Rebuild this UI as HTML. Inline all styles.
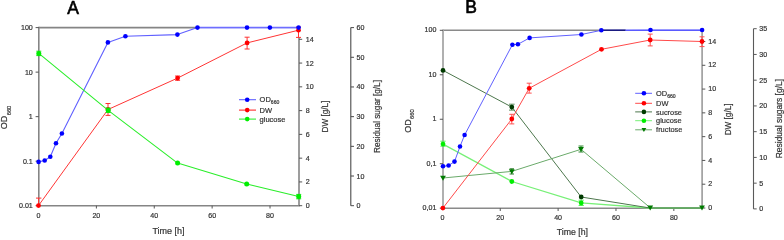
<!DOCTYPE html>
<html><head><meta charset="utf-8"><style>
html,body{margin:0;padding:0;background:#fff;width:784px;height:238px;overflow:hidden}
svg{display:block;will-change:transform}
text{font-family:"Liberation Sans", sans-serif}
</style></head><body>
<svg width="784" height="238" viewBox="0 0 784 238">
<text x="73.2" y="13.6" font-size="17.5" text-anchor="middle" fill="#000" stroke="#000" stroke-width="0.6">A</text>
<line x1="38.8" y1="27.6" x2="197.5" y2="27.6" stroke="#858585" stroke-width="1.6"/>
<line x1="38.8" y1="26.8" x2="38.8" y2="206.5" stroke="#858585" stroke-width="1.6"/>
<line x1="38.0" y1="205.7" x2="299.8" y2="205.7" stroke="#858585" stroke-width="1.6"/>
<line x1="35.599999999999994" y1="27.6" x2="38.8" y2="27.6" stroke="#555555" stroke-width="1.0"/>
<text x="32.8" y="30.1" font-size="7.1" text-anchor="end" fill="#333333" stroke="#333333" stroke-width="0.2">100</text>
<line x1="35.599999999999994" y1="72.125" x2="38.8" y2="72.125" stroke="#555555" stroke-width="1.0"/>
<text x="32.8" y="74.625" font-size="7.1" text-anchor="end" fill="#333333" stroke="#333333" stroke-width="0.2">10</text>
<line x1="35.599999999999994" y1="116.65" x2="38.8" y2="116.65" stroke="#555555" stroke-width="1.0"/>
<text x="32.8" y="119.15" font-size="7.1" text-anchor="end" fill="#333333" stroke="#333333" stroke-width="0.2">1</text>
<line x1="35.599999999999994" y1="161.17499999999998" x2="38.8" y2="161.17499999999998" stroke="#555555" stroke-width="1.0"/>
<text x="32.8" y="163.67499999999998" font-size="7.1" text-anchor="end" fill="#333333" stroke="#333333" stroke-width="0.2">0.1</text>
<line x1="35.599999999999994" y1="205.7" x2="38.8" y2="205.7" stroke="#555555" stroke-width="1.0"/>
<text x="32.8" y="208.2" font-size="7.1" text-anchor="end" fill="#333333" stroke="#333333" stroke-width="0.2">0.01</text>
<text x="38.5" y="217.89999999999998" font-size="7.1" text-anchor="middle" fill="#333333" stroke="#333333" stroke-width="0.2">0</text>
<line x1="96.38" y1="205.7" x2="96.38" y2="208.5" stroke="#555555" stroke-width="1.0"/>
<text x="96.38" y="217.89999999999998" font-size="7.1" text-anchor="middle" fill="#333333" stroke="#333333" stroke-width="0.2">20</text>
<line x1="154.26" y1="205.7" x2="154.26" y2="208.5" stroke="#555555" stroke-width="1.0"/>
<text x="154.26" y="217.89999999999998" font-size="7.1" text-anchor="middle" fill="#333333" stroke="#333333" stroke-width="0.2">40</text>
<line x1="212.14000000000001" y1="205.7" x2="212.14000000000001" y2="208.5" stroke="#555555" stroke-width="1.0"/>
<text x="212.14000000000001" y="217.89999999999998" font-size="7.1" text-anchor="middle" fill="#333333" stroke="#333333" stroke-width="0.2">60</text>
<line x1="270.02" y1="205.7" x2="270.02" y2="208.5" stroke="#555555" stroke-width="1.0"/>
<text x="270.02" y="217.89999999999998" font-size="7.1" text-anchor="middle" fill="#333333" stroke="#333333" stroke-width="0.2">80</text>
<text x="168.5" y="233.9" font-size="9.0" text-anchor="middle" fill="#333333" stroke="#333333" stroke-width="0.2">Time [h]</text>
<line x1="299.0" y1="37.8" x2="299.0" y2="205.7" stroke="#858585" stroke-width="1.6"/>
<line x1="299.0" y1="205.7" x2="302.2" y2="205.7" stroke="#555555" stroke-width="1.0"/>
<text x="305.8" y="208.2" font-size="7.1" text-anchor="start" fill="#333333" stroke="#333333" stroke-width="0.2">0</text>
<line x1="299.0" y1="181.92857142857142" x2="302.2" y2="181.92857142857142" stroke="#555555" stroke-width="1.0"/>
<text x="305.8" y="184.42857142857142" font-size="7.1" text-anchor="start" fill="#333333" stroke="#333333" stroke-width="0.2">2</text>
<line x1="299.0" y1="158.15714285714284" x2="302.2" y2="158.15714285714284" stroke="#555555" stroke-width="1.0"/>
<text x="305.8" y="160.65714285714284" font-size="7.1" text-anchor="start" fill="#333333" stroke="#333333" stroke-width="0.2">4</text>
<line x1="299.0" y1="134.3857142857143" x2="302.2" y2="134.3857142857143" stroke="#555555" stroke-width="1.0"/>
<text x="305.8" y="136.8857142857143" font-size="7.1" text-anchor="start" fill="#333333" stroke="#333333" stroke-width="0.2">6</text>
<line x1="299.0" y1="110.61428571428571" x2="302.2" y2="110.61428571428571" stroke="#555555" stroke-width="1.0"/>
<text x="305.8" y="113.11428571428571" font-size="7.1" text-anchor="start" fill="#333333" stroke="#333333" stroke-width="0.2">8</text>
<line x1="299.0" y1="86.84285714285714" x2="302.2" y2="86.84285714285714" stroke="#555555" stroke-width="1.0"/>
<text x="305.8" y="89.34285714285714" font-size="7.1" text-anchor="start" fill="#333333" stroke="#333333" stroke-width="0.2">10</text>
<line x1="299.0" y1="63.071428571428584" x2="302.2" y2="63.071428571428584" stroke="#555555" stroke-width="1.0"/>
<text x="305.8" y="65.57142857142858" font-size="7.1" text-anchor="start" fill="#333333" stroke="#333333" stroke-width="0.2">12</text>
<line x1="299.0" y1="39.30000000000004" x2="302.2" y2="39.30000000000004" stroke="#555555" stroke-width="1.0"/>
<text x="305.8" y="41.80000000000004" font-size="7.1" text-anchor="start" fill="#333333" stroke="#333333" stroke-width="0.2">14</text>
<text transform="translate(328.3,116.6) rotate(-90)" font-size="8.2" text-anchor="middle" fill="#333333" stroke="#333333" stroke-width="0.2">DW [g/L]</text>
<line x1="350.8" y1="27.6" x2="350.8" y2="205.7" stroke="#4a4a4a" stroke-width="1.1"/>
<line x1="350.8" y1="205.7" x2="354.0" y2="205.7" stroke="#4a4a4a" stroke-width="1.0"/>
<text x="356.6" y="208.2" font-size="7.1" text-anchor="start" fill="#333333" stroke="#333333" stroke-width="0.2">0</text>
<line x1="350.8" y1="176.01666666666665" x2="354.0" y2="176.01666666666665" stroke="#4a4a4a" stroke-width="1.0"/>
<text x="356.6" y="178.51666666666665" font-size="7.1" text-anchor="start" fill="#333333" stroke="#333333" stroke-width="0.2">10</text>
<line x1="350.8" y1="146.33333333333331" x2="354.0" y2="146.33333333333331" stroke="#4a4a4a" stroke-width="1.0"/>
<text x="356.6" y="148.83333333333331" font-size="7.1" text-anchor="start" fill="#333333" stroke="#333333" stroke-width="0.2">20</text>
<line x1="350.8" y1="116.64999999999999" x2="354.0" y2="116.64999999999999" stroke="#4a4a4a" stroke-width="1.0"/>
<text x="356.6" y="119.14999999999999" font-size="7.1" text-anchor="start" fill="#333333" stroke="#333333" stroke-width="0.2">30</text>
<line x1="350.8" y1="86.96666666666665" x2="354.0" y2="86.96666666666665" stroke="#4a4a4a" stroke-width="1.0"/>
<text x="356.6" y="89.46666666666665" font-size="7.1" text-anchor="start" fill="#333333" stroke="#333333" stroke-width="0.2">40</text>
<line x1="350.8" y1="57.28333333333333" x2="354.0" y2="57.28333333333333" stroke="#4a4a4a" stroke-width="1.0"/>
<text x="356.6" y="59.78333333333333" font-size="7.1" text-anchor="start" fill="#333333" stroke="#333333" stroke-width="0.2">50</text>
<line x1="350.8" y1="27.599999999999994" x2="354.0" y2="27.599999999999994" stroke="#4a4a4a" stroke-width="1.0"/>
<text x="356.6" y="30.099999999999994" font-size="7.1" text-anchor="start" fill="#333333" stroke="#333333" stroke-width="0.2">60</text>
<text transform="translate(380.0,116.5) rotate(-90)" font-size="8.2" text-anchor="middle" fill="#333333" stroke="#333333" stroke-width="0.2">Residual sugar [g/L]</text>
<text transform="translate(7.4,117.4) rotate(-90)" font-size="9.0" text-anchor="middle" fill="#333333" stroke="#333333" stroke-width="0.2">OD<tspan font-size="5.8" dx="0.3" dy="3.2">660</tspan></text>
<polyline points="38.6,161.9 44.7,160.5 50.3,156.8 56,143.3 61.9,133.5 107.9,42.4 125.4,36.2 177.4,34.6 197.5,27.6 247,27.6 269.9,27.6 298.6,27.6" fill="none" stroke="#6060ff" stroke-width="1.1" stroke-linejoin="round"/>
<line x1="197.5" y1="27.6" x2="298.6" y2="27.6" stroke="#6e6eff" stroke-width="1.5"/>
<polyline points="38.5,205.6 108,109.5 177.6,78.1 247.1,42.9 298.5,30.2" fill="none" stroke="#ff3434" stroke-width="1.0" stroke-linejoin="round"/>
<polyline points="38.8,53.4 108.2,110.3 177.6,163.1 246.7,184 298.7,196.6" fill="none" stroke="#2aee2a" stroke-width="1.05" stroke-linejoin="round"/>
<line x1="38.6" y1="198.1" x2="38.6" y2="205.6" stroke="#ff3030" stroke-width="1.0"/>
<line x1="36.0" y1="198.1" x2="41.4" y2="198.1" stroke="#ff3030" stroke-width="1.0"/>
<line x1="108" y1="103.5" x2="108" y2="115.4" stroke="#ff3030" stroke-width="1.0"/>
<line x1="105.5" y1="103.5" x2="110.5" y2="103.5" stroke="#ff3030" stroke-width="1.0"/>
<line x1="105.5" y1="115.4" x2="110.5" y2="115.4" stroke="#ff3030" stroke-width="1.0"/>
<line x1="177.6" y1="76.0" x2="177.6" y2="80.3" stroke="#ff3030" stroke-width="1.0"/>
<line x1="175.1" y1="76.0" x2="180.1" y2="76.0" stroke="#ff3030" stroke-width="1.0"/>
<line x1="175.1" y1="80.3" x2="180.1" y2="80.3" stroke="#ff3030" stroke-width="1.0"/>
<line x1="247.1" y1="37.2" x2="247.1" y2="49.0" stroke="#ff3030" stroke-width="1.0"/>
<line x1="244.6" y1="37.2" x2="249.6" y2="37.2" stroke="#ff3030" stroke-width="1.0"/>
<line x1="244.6" y1="49.0" x2="249.6" y2="49.0" stroke="#ff3030" stroke-width="1.0"/>
<line x1="298.5" y1="27.0" x2="298.5" y2="37.4" stroke="#ff3030" stroke-width="1.0"/>
<line x1="296.0" y1="27.0" x2="301.0" y2="27.0" stroke="#ff3030" stroke-width="1.0"/>
<line x1="296.0" y1="37.4" x2="301.0" y2="37.4" stroke="#ff3030" stroke-width="1.0"/>
<circle cx="38.5" cy="205.6" r="2.4" fill="#ff0000"/>
<circle cx="108" cy="109.5" r="2.4" fill="#ff0000"/>
<circle cx="177.6" cy="78.1" r="2.4" fill="#ff0000"/>
<circle cx="247.1" cy="42.9" r="2.4" fill="#ff0000"/>
<circle cx="298.5" cy="30.2" r="2.4" fill="#ff0000"/>
<line x1="38.8" y1="51.2" x2="38.8" y2="55.6" stroke="#22dd22" stroke-width="1.0"/>
<line x1="36.3" y1="51.2" x2="41.3" y2="51.2" stroke="#22dd22" stroke-width="1.0"/>
<line x1="36.3" y1="55.6" x2="41.3" y2="55.6" stroke="#22dd22" stroke-width="1.0"/>
<line x1="298.7" y1="194.4" x2="298.7" y2="198.8" stroke="#22dd22" stroke-width="1.0"/>
<line x1="296.2" y1="194.4" x2="301.2" y2="194.4" stroke="#22dd22" stroke-width="1.0"/>
<line x1="296.2" y1="198.8" x2="301.2" y2="198.8" stroke="#22dd22" stroke-width="1.0"/>
<line x1="108.2" y1="108.1" x2="108.2" y2="112.5" stroke="#22dd22" stroke-width="1.0"/>
<line x1="105.7" y1="108.1" x2="110.7" y2="108.1" stroke="#22dd22" stroke-width="1.0"/>
<line x1="105.7" y1="112.5" x2="110.7" y2="112.5" stroke="#22dd22" stroke-width="1.0"/>
<circle cx="38.8" cy="53.4" r="2.5" fill="#00ee00"/>
<circle cx="108.2" cy="110.3" r="2.5" fill="#00ee00"/>
<circle cx="177.6" cy="163.1" r="2.5" fill="#00ee00"/>
<circle cx="246.7" cy="184" r="2.5" fill="#00ee00"/>
<circle cx="298.7" cy="196.6" r="2.5" fill="#00ee00"/>
<circle cx="38.6" cy="161.9" r="2.3" fill="#0000ff"/>
<circle cx="44.7" cy="160.5" r="2.3" fill="#0000ff"/>
<circle cx="50.3" cy="156.8" r="2.3" fill="#0000ff"/>
<circle cx="56" cy="143.3" r="2.3" fill="#0000ff"/>
<circle cx="61.9" cy="133.5" r="2.3" fill="#0000ff"/>
<circle cx="107.9" cy="42.4" r="2.3" fill="#0000ff"/>
<circle cx="125.4" cy="36.2" r="2.3" fill="#0000ff"/>
<circle cx="177.4" cy="34.6" r="2.3" fill="#0000ff"/>
<circle cx="197.5" cy="27.6" r="2.3" fill="#0000ff"/>
<circle cx="247" cy="27.6" r="2.3" fill="#0000ff"/>
<circle cx="269.9" cy="27.6" r="2.3" fill="#0000ff"/>
<circle cx="298.6" cy="27.6" r="2.3" fill="#0000ff"/>
<line x1="239" y1="99.7" x2="256" y2="99.7" stroke="#6060ff" stroke-width="1.1"/>
<circle cx="247.2" cy="99.7" r="2.3" fill="#0000ff"/>
<text x="259.6" y="102.3" font-size="7.5" text-anchor="start" fill="#333333" stroke="#333333" stroke-width="0.2">OD<tspan font-size="5.1" dy="1.6">660</tspan></text>
<line x1="239" y1="110.1" x2="256" y2="110.1" stroke="#ff2a2a" stroke-width="1.1"/>
<circle cx="247.2" cy="110.1" r="2.3" fill="#ff0000"/>
<text x="259.6" y="112.69999999999999" font-size="7.5" text-anchor="start" fill="#333333" stroke="#333333" stroke-width="0.2">DW</text>
<line x1="239" y1="119.1" x2="256" y2="119.1" stroke="#33ee33" stroke-width="1.1"/>
<circle cx="247.2" cy="119.1" r="2.3" fill="#00ee00"/>
<text x="259.6" y="121.69999999999999" font-size="7.5" text-anchor="start" fill="#333333" stroke="#333333" stroke-width="0.2">glucose</text>
<text x="471.0" y="13.4" font-size="17.5" text-anchor="middle" fill="#000" stroke="#000" stroke-width="0.6">B</text>
<line x1="443.0" y1="30.3" x2="625.6" y2="30.3" stroke="#8a8a8a" stroke-width="1.5"/>
<line x1="443.0" y1="29.6" x2="443.0" y2="208.89999999999998" stroke="#a8a8a8" stroke-width="1.8"/>
<line x1="442.2" y1="208.2" x2="702.9" y2="208.2" stroke="#8a8a8a" stroke-width="1.6"/>
<line x1="439.8" y1="30.3" x2="443.0" y2="30.3" stroke="#555555" stroke-width="1.0"/>
<text x="436.4" y="32.0" font-size="7.1" text-anchor="end" fill="#333333" stroke="#333333" stroke-width="0.2">100</text>
<line x1="439.8" y1="74.77499999999999" x2="443.0" y2="74.77499999999999" stroke="#555555" stroke-width="1.0"/>
<text x="436.4" y="76.87499999999999" font-size="7.1" text-anchor="end" fill="#333333" stroke="#333333" stroke-width="0.2">10</text>
<line x1="439.8" y1="119.24999999999999" x2="443.0" y2="119.24999999999999" stroke="#555555" stroke-width="1.0"/>
<text x="436.4" y="121.34999999999998" font-size="7.1" text-anchor="end" fill="#333333" stroke="#333333" stroke-width="0.2">1</text>
<line x1="439.8" y1="163.725" x2="443.0" y2="163.725" stroke="#555555" stroke-width="1.0"/>
<text x="436.4" y="165.825" font-size="7.1" text-anchor="end" fill="#333333" stroke="#333333" stroke-width="0.2">0,1</text>
<line x1="439.8" y1="208.2" x2="443.0" y2="208.2" stroke="#555555" stroke-width="1.0"/>
<text x="436.4" y="210.29999999999998" font-size="7.1" text-anchor="end" fill="#333333" stroke="#333333" stroke-width="0.2">0,01</text>
<text x="442.4" y="220.39999999999998" font-size="7.1" text-anchor="middle" fill="#333333" stroke="#333333" stroke-width="0.2">0</text>
<line x1="500.26" y1="208.2" x2="500.26" y2="211.0" stroke="#555555" stroke-width="1.0"/>
<text x="500.26" y="220.39999999999998" font-size="7.1" text-anchor="middle" fill="#333333" stroke="#333333" stroke-width="0.2">20</text>
<line x1="558.12" y1="208.2" x2="558.12" y2="211.0" stroke="#555555" stroke-width="1.0"/>
<text x="558.12" y="220.39999999999998" font-size="7.1" text-anchor="middle" fill="#333333" stroke="#333333" stroke-width="0.2">40</text>
<line x1="615.98" y1="208.2" x2="615.98" y2="211.0" stroke="#555555" stroke-width="1.0"/>
<text x="615.98" y="220.39999999999998" font-size="7.1" text-anchor="middle" fill="#333333" stroke="#333333" stroke-width="0.2">60</text>
<line x1="673.8399999999999" y1="208.2" x2="673.8399999999999" y2="211.0" stroke="#555555" stroke-width="1.0"/>
<text x="673.8399999999999" y="220.39999999999998" font-size="7.1" text-anchor="middle" fill="#333333" stroke="#333333" stroke-width="0.2">80</text>
<text x="572.4" y="235.3" font-size="8.75" text-anchor="middle" fill="#333333" stroke="#333333" stroke-width="0.2">Time [h]</text>
<line x1="702.1" y1="30.3" x2="702.1" y2="208.2" stroke="#9a9a9a" stroke-width="1.6"/>
<line x1="702.1" y1="208.0" x2="705.3000000000001" y2="208.0" stroke="#555555" stroke-width="1.0"/>
<text x="708.3000000000001" y="210.2" font-size="7.1" text-anchor="start" fill="#333333" stroke="#333333" stroke-width="0.2">0</text>
<line x1="702.1" y1="184.21428571428572" x2="705.3000000000001" y2="184.21428571428572" stroke="#555555" stroke-width="1.0"/>
<text x="708.3000000000001" y="186.4142857142857" font-size="7.1" text-anchor="start" fill="#333333" stroke="#333333" stroke-width="0.2">2</text>
<line x1="702.1" y1="160.42857142857144" x2="705.3000000000001" y2="160.42857142857144" stroke="#555555" stroke-width="1.0"/>
<text x="708.3000000000001" y="162.62857142857143" font-size="7.1" text-anchor="start" fill="#333333" stroke="#333333" stroke-width="0.2">4</text>
<line x1="702.1" y1="136.64285714285714" x2="705.3000000000001" y2="136.64285714285714" stroke="#555555" stroke-width="1.0"/>
<text x="708.3000000000001" y="138.84285714285713" font-size="7.1" text-anchor="start" fill="#333333" stroke="#333333" stroke-width="0.2">6</text>
<line x1="702.1" y1="112.85714285714286" x2="705.3000000000001" y2="112.85714285714286" stroke="#555555" stroke-width="1.0"/>
<text x="708.3000000000001" y="115.05714285714286" font-size="7.1" text-anchor="start" fill="#333333" stroke="#333333" stroke-width="0.2">8</text>
<line x1="702.1" y1="89.07142857142857" x2="705.3000000000001" y2="89.07142857142857" stroke="#555555" stroke-width="1.0"/>
<text x="708.3000000000001" y="91.27142857142857" font-size="7.1" text-anchor="start" fill="#333333" stroke="#333333" stroke-width="0.2">10</text>
<line x1="702.1" y1="65.28571428571428" x2="705.3000000000001" y2="65.28571428571428" stroke="#555555" stroke-width="1.0"/>
<text x="708.3000000000001" y="67.48571428571428" font-size="7.1" text-anchor="start" fill="#333333" stroke="#333333" stroke-width="0.2">12</text>
<line x1="702.1" y1="41.5" x2="705.3000000000001" y2="41.5" stroke="#555555" stroke-width="1.0"/>
<text x="708.3000000000001" y="43.7" font-size="7.1" text-anchor="start" fill="#333333" stroke="#333333" stroke-width="0.2">14</text>
<text transform="translate(731.2,119.4) rotate(-90)" font-size="8.2" text-anchor="middle" fill="#333333" stroke="#333333" stroke-width="0.2">DW [g/L]</text>
<line x1="753.5" y1="28.7" x2="753.5" y2="208.9" stroke="#5a5a5a" stroke-width="1.1"/>
<line x1="753.5" y1="208.9" x2="756.7" y2="208.9" stroke="#5a5a5a" stroke-width="1.0"/>
<text x="759.3" y="211.4" font-size="7.1" text-anchor="start" fill="#333333" stroke="#333333" stroke-width="0.2">0</text>
<line x1="753.5" y1="183.15714285714284" x2="756.7" y2="183.15714285714284" stroke="#5a5a5a" stroke-width="1.0"/>
<text x="759.3" y="185.65714285714284" font-size="7.1" text-anchor="start" fill="#333333" stroke="#333333" stroke-width="0.2">5</text>
<line x1="753.5" y1="157.4142857142857" x2="756.7" y2="157.4142857142857" stroke="#5a5a5a" stroke-width="1.0"/>
<text x="759.3" y="159.9142857142857" font-size="7.1" text-anchor="start" fill="#333333" stroke="#333333" stroke-width="0.2">10</text>
<line x1="753.5" y1="131.67142857142858" x2="756.7" y2="131.67142857142858" stroke="#5a5a5a" stroke-width="1.0"/>
<text x="759.3" y="134.17142857142858" font-size="7.1" text-anchor="start" fill="#333333" stroke="#333333" stroke-width="0.2">15</text>
<line x1="753.5" y1="105.92857142857142" x2="756.7" y2="105.92857142857142" stroke="#5a5a5a" stroke-width="1.0"/>
<text x="759.3" y="108.42857142857142" font-size="7.1" text-anchor="start" fill="#333333" stroke="#333333" stroke-width="0.2">20</text>
<line x1="753.5" y1="80.18571428571428" x2="756.7" y2="80.18571428571428" stroke="#5a5a5a" stroke-width="1.0"/>
<text x="759.3" y="82.68571428571428" font-size="7.1" text-anchor="start" fill="#333333" stroke="#333333" stroke-width="0.2">25</text>
<line x1="753.5" y1="54.44285714285712" x2="756.7" y2="54.44285714285712" stroke="#5a5a5a" stroke-width="1.0"/>
<text x="759.3" y="56.94285714285712" font-size="7.1" text-anchor="start" fill="#333333" stroke="#333333" stroke-width="0.2">30</text>
<line x1="753.5" y1="28.69999999999999" x2="756.7" y2="28.69999999999999" stroke="#5a5a5a" stroke-width="1.0"/>
<text x="759.3" y="31.19999999999999" font-size="7.1" text-anchor="start" fill="#333333" stroke="#333333" stroke-width="0.2">35</text>
<text transform="translate(782.0,118.6) rotate(-90)" font-size="8.45" text-anchor="middle" fill="#333333" stroke="#333333" stroke-width="0.2">Residual sugars [g/L]</text>
<text transform="translate(411.0,121.1) rotate(-90)" font-size="9.0" text-anchor="middle" fill="#333333" stroke="#333333" stroke-width="0.2">OD<tspan font-size="5.8" dx="0.3" dy="3.2">660</tspan></text>
<polyline points="443,144.1 511.8,181.5 581.2,202.9 650,208 702,208" fill="none" stroke="#77f077" stroke-width="1.3" stroke-linejoin="round"/>
<polyline points="443,70.4 511.8,107.1 581.2,197 650,208 702,208" fill="none" stroke="#4d774d" stroke-width="1.0" stroke-linejoin="round"/>
<polyline points="443,178 511.8,171.4 581,149.3 650.2,207.8 702,207.8" fill="none" stroke="#6aaa6a" stroke-width="1.0" stroke-linejoin="round"/>
<polyline points="443,166.3 448.6,165.5 454.5,161.6 460,146.5 464.6,135 512.4,44.7 517.9,44.3 529.6,37.9 581.4,34.5 601.3,30.3 650.5,30.0 702.1,30.0" fill="none" stroke="#6060ff" stroke-width="1.0" stroke-linejoin="round"/>
<line x1="603" y1="30.3" x2="625.6" y2="30.3" stroke="#1a1a80" stroke-width="1.4"/>
<line x1="625.6" y1="30.3" x2="702" y2="30.3" stroke="#5a5aff" stroke-width="1.2"/>
<polyline points="442.9,208.1 511.8,119 529.2,88.3 601.5,49.3 650.2,40 702,41.5" fill="none" stroke="#ff4a4a" stroke-width="1.0" stroke-linejoin="round"/>
<line x1="511.8" y1="114.3" x2="511.8" y2="123.9" stroke="#ff5050" stroke-width="1.0"/>
<line x1="509.3" y1="114.3" x2="514.3" y2="114.3" stroke="#ff5050" stroke-width="1.0"/>
<line x1="509.3" y1="123.9" x2="514.3" y2="123.9" stroke="#ff5050" stroke-width="1.0"/>
<line x1="529.2" y1="83.2" x2="529.2" y2="93.1" stroke="#ff5050" stroke-width="1.0"/>
<line x1="526.7" y1="83.2" x2="531.7" y2="83.2" stroke="#ff5050" stroke-width="1.0"/>
<line x1="526.7" y1="93.1" x2="531.7" y2="93.1" stroke="#ff5050" stroke-width="1.0"/>
<line x1="650.2" y1="34.1" x2="650.2" y2="45.9" stroke="#ff5050" stroke-width="1.0"/>
<line x1="647.7" y1="34.1" x2="652.7" y2="34.1" stroke="#ff5050" stroke-width="1.0"/>
<line x1="647.7" y1="45.9" x2="652.7" y2="45.9" stroke="#ff5050" stroke-width="1.0"/>
<line x1="702" y1="36.8" x2="702" y2="46.6" stroke="#ff5050" stroke-width="1.0"/>
<line x1="699.5" y1="36.8" x2="704.5" y2="36.8" stroke="#ff5050" stroke-width="1.0"/>
<line x1="699.5" y1="46.6" x2="704.5" y2="46.6" stroke="#ff5050" stroke-width="1.0"/>
<line x1="511.8" y1="104.2" x2="511.8" y2="110.1" stroke="#5a8a5a" stroke-width="1.0"/>
<line x1="509.0" y1="104.2" x2="514.6" y2="104.2" stroke="#5a8a5a" stroke-width="1.0"/>
<line x1="509.0" y1="110.1" x2="514.6" y2="110.1" stroke="#5a8a5a" stroke-width="1.0"/>
<line x1="443" y1="141.2" x2="443" y2="146.2" stroke="#55ee55" stroke-width="1.0"/>
<line x1="440.4" y1="141.2" x2="445.6" y2="141.2" stroke="#55ee55" stroke-width="1.0"/>
<line x1="440.4" y1="146.2" x2="445.6" y2="146.2" stroke="#55ee55" stroke-width="1.0"/>
<line x1="581.2" y1="200.2" x2="581.2" y2="205.5" stroke="#55ee55" stroke-width="1.0"/>
<line x1="578.6" y1="200.2" x2="583.8000000000001" y2="200.2" stroke="#55ee55" stroke-width="1.0"/>
<line x1="578.6" y1="205.5" x2="583.8000000000001" y2="205.5" stroke="#55ee55" stroke-width="1.0"/>
<line x1="581" y1="146.0" x2="581" y2="152.0" stroke="#338833" stroke-width="1.0"/>
<line x1="578.5" y1="146.0" x2="583.5" y2="146.0" stroke="#338833" stroke-width="1.0"/>
<line x1="578.5" y1="152.0" x2="583.5" y2="152.0" stroke="#338833" stroke-width="1.0"/>
<line x1="511.8" y1="168.8" x2="511.8" y2="174.0" stroke="#2a7a2a" stroke-width="1.0"/>
<line x1="509.6" y1="168.8" x2="514.0" y2="168.8" stroke="#2a7a2a" stroke-width="1.0"/>
<line x1="509.6" y1="174.0" x2="514.0" y2="174.0" stroke="#2a7a2a" stroke-width="1.0"/>
<circle cx="442.9" cy="208.1" r="2.4" fill="#ff0000"/>
<circle cx="511.8" cy="119" r="2.4" fill="#ff0000"/>
<circle cx="529.2" cy="88.3" r="2.4" fill="#ff0000"/>
<circle cx="601.5" cy="49.3" r="2.4" fill="#ff0000"/>
<circle cx="650.2" cy="40" r="2.4" fill="#ff0000"/>
<circle cx="702" cy="41.5" r="2.4" fill="#ff0000"/>
<circle cx="443" cy="70.4" r="2.4" fill="#003a00"/>
<circle cx="511.8" cy="107.1" r="2.4" fill="#003a00"/>
<circle cx="581.2" cy="197" r="2.4" fill="#003a00"/>
<circle cx="443" cy="144.1" r="2.4" fill="#00ee00"/>
<circle cx="511.8" cy="181.5" r="2.4" fill="#00ee00"/>
<circle cx="581.2" cy="202.9" r="2.4" fill="#00ee00"/>
<path d="M440.10,175.82 L445.90,175.82 L443,180.75 Z" fill="#007a00"/>
<path d="M508.90,169.22 L514.70,169.22 L511.8,174.16 Z" fill="#007a00"/>
<path d="M578.10,147.12 L583.90,147.12 L581,152.06 Z" fill="#007a00"/>
<path d="M647.30,205.62 L653.10,205.62 L650.2,210.56 Z" fill="#007a00"/>
<path d="M699.10,205.62 L704.90,205.62 L702,210.56 Z" fill="#007a00"/>
<circle cx="443" cy="166.3" r="2.3" fill="#0000ff"/>
<circle cx="448.6" cy="165.5" r="2.3" fill="#0000ff"/>
<circle cx="454.5" cy="161.6" r="2.3" fill="#0000ff"/>
<circle cx="460" cy="146.5" r="2.3" fill="#0000ff"/>
<circle cx="464.6" cy="135" r="2.3" fill="#0000ff"/>
<circle cx="512.4" cy="44.7" r="2.3" fill="#0000ff"/>
<circle cx="517.9" cy="44.3" r="2.3" fill="#0000ff"/>
<circle cx="529.6" cy="37.9" r="2.3" fill="#0000ff"/>
<circle cx="581.4" cy="34.5" r="2.3" fill="#0000ff"/>
<circle cx="601.3" cy="30.3" r="2.3" fill="#0000ff"/>
<circle cx="650.5" cy="30.0" r="2.3" fill="#0000ff"/>
<circle cx="702.1" cy="30.0" r="2.3" fill="#0000ff"/>
<line x1="635.2" y1="93.3" x2="652" y2="93.3" stroke="#6060ff" stroke-width="1.0"/>
<circle cx="643.9" cy="93.3" r="2.3" fill="#0000ff"/>
<text x="656.1" y="95.89999999999999" font-size="7.4" text-anchor="start" fill="#333333" stroke="#333333" stroke-width="0.2">OD<tspan font-size="5.1" dy="1.6">660</tspan></text>
<line x1="635.2" y1="103.3" x2="652" y2="103.3" stroke="#ff4a4a" stroke-width="1.0"/>
<circle cx="643.9" cy="103.3" r="2.3" fill="#ff0000"/>
<text x="656.1" y="105.89999999999999" font-size="7.4" text-anchor="start" fill="#333333" stroke="#333333" stroke-width="0.2">DW</text>
<line x1="635.2" y1="111.9" x2="652" y2="111.9" stroke="#4d774d" stroke-width="1.0"/>
<circle cx="643.9" cy="111.9" r="2.3" fill="#003a00"/>
<text x="656.1" y="114.5" font-size="7.4" text-anchor="start" fill="#333333" stroke="#333333" stroke-width="0.2">sucrose</text>
<line x1="635.2" y1="120.7" x2="652" y2="120.7" stroke="#77f077" stroke-width="1.0"/>
<circle cx="643.9" cy="120.7" r="2.3" fill="#00ee00"/>
<text x="656.1" y="123.3" font-size="7.4" text-anchor="start" fill="#333333" stroke="#333333" stroke-width="0.2">glucose</text>
<line x1="635.2" y1="129.8" x2="652" y2="129.8" stroke="#6aaa6a" stroke-width="1.0"/>
<path d="M641.50,128.00 L646.30,128.00 L643.9,132.08 Z" fill="#007a00"/>
<text x="656.1" y="132.4" font-size="7.4" text-anchor="start" fill="#333333" stroke="#333333" stroke-width="0.2">fructose</text>
</svg>
</body></html>
